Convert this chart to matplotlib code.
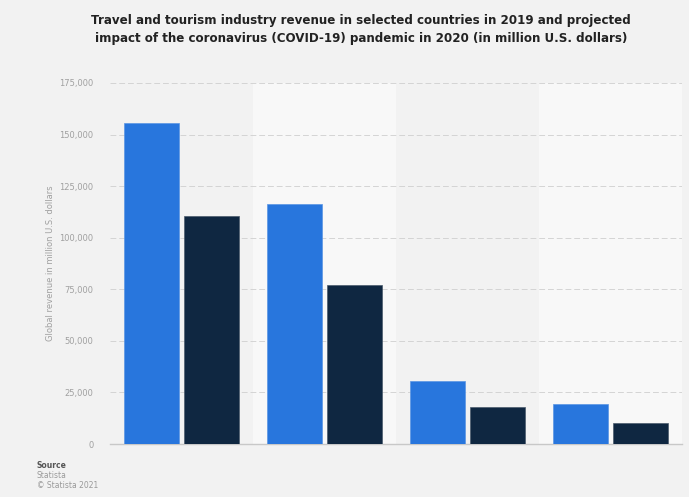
import matplotlib.pyplot as plt
import numpy as np
from matplotlib.ticker import FuncFormatter

countries = ["Country 1", "Country 2", "Country 3", "Country 4"]
revenue_2019 = [155500, 116300, 30700, 19200]
revenue_2020 = [110500, 77100, 18100, 10300]
series_names = ["2019", "2020*"]
yticks = [0, 25000, 50000, 75000, 100000, 125000, 150000, 175000]

fig = plt.figure(figsize=(6.89, 4.97), dpi=100)
fig.patch.set_facecolor("#f2f2f2")
ax = fig.add_axes([0.1597, 0.1066, 0.8301, 0.7264])
ax.set_facecolor("#f2f2f2")

x = np.arange(len(countries))
w = 0.38
gap = 0.02

# alternating column bands
for i in x:
    if i % 2 == 1:
        ax.axvspan(i - 0.5, i + 0.5, color="#f8f8f8", zorder=0, lw=0)

ax.bar(x - w / 2 - gap, revenue_2019, w, color="#2876dd", edgecolor="#5b95e3", lw=0.5,
       label=series_names[0], zorder=3)
ax.bar(x + w / 2 + gap, revenue_2020, w, color="#0f2741", edgecolor="#4a5a6c", lw=0.5,
       label=series_names[1], zorder=3)

ax.set_xlim(-0.5, len(countries) - 0.5)
ax.set_ylim(0, 175000)
ax.set_yticks(yticks)
ax.yaxis.set_major_formatter(FuncFormatter(lambda v, p: f"{int(v):,}"))
ax.set_xticks([])
ax.tick_params(axis="y", length=0, labelsize=6, labelcolor="#a0a0a0", pad=12)
ax.grid(axis="y", color="#d4d4d4", linestyle=(0, (6, 3)), lw=0.7, zorder=1)

for s in ["top", "right", "left"]:
    ax.spines[s].set_visible(False)
ax.spines["bottom"].set_color("#c8c8c8")
ax.spines["bottom"].set_linewidth(1)

ax.set_ylabel("Global revenue in million U.S. dollars", fontsize=6, color="#a0a0a0", labelpad=3)

fig.text(0.524, 0.94,
         "Travel and tourism industry revenue in selected countries in 2019 and projected\n"
         "impact of the coronavirus (COVID-19) pandemic in 2020 (in million U.S. dollars)",
         ha="center", va="center", fontsize=8.6, fontweight="bold", color="#222222",
         linespacing=1.5)

fig.text(0.053, 0.058, "Source", fontsize=5.5, fontweight="bold", color="#555555")
fig.text(0.053, 0.038, "Statista", fontsize=5.5, color="#999999")
fig.text(0.053, 0.018, "© Statista 2021", fontsize=5.5, color="#999999")

fig.savefig("out.png", dpi=100, facecolor=fig.get_facecolor())
